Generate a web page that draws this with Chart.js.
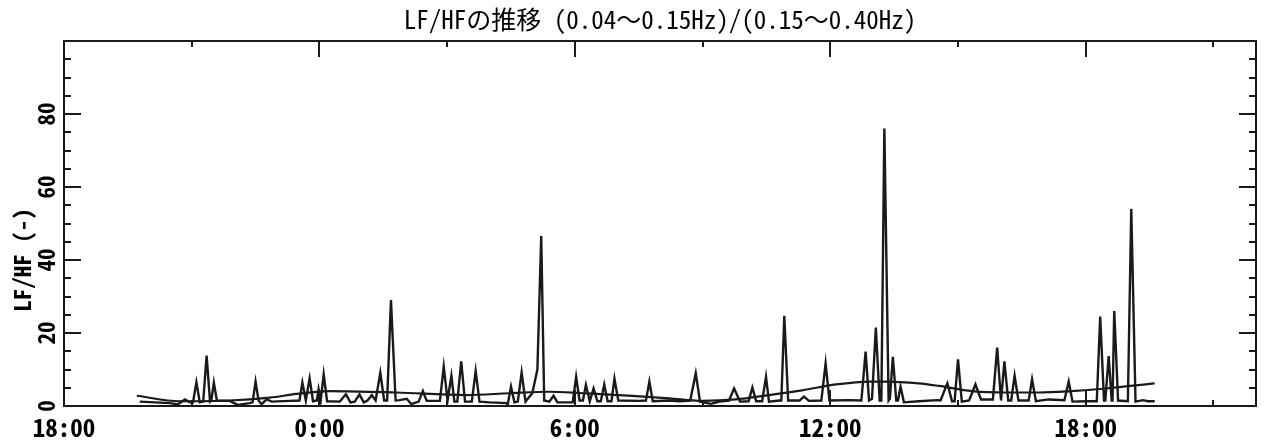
<!DOCTYPE html>
<html><head><meta charset="utf-8">
<script src="https://cdn.jsdelivr.net/npm/chart.js@4.4.1/dist/chart.umd.min.js"></script>
<style>html,body{margin:0;padding:0;background:#fff;}#wrap{width:1265px;height:441px;}</style>
</head><body><div id="wrap"><canvas id="c" width="1265" height="441"></canvas></div>
<script>
// hours elapsed since 18:00 on the first day
const lfhfHours = [
 1.78,2.13,2.49,2.67,2.84,2.96,3.03,3.11,3.19,3.27,
 3.35,3.43,3.46,3.52,3.59,3.89,4.08,4.36,4.43,4.50,
 4.57,4.64,4.76,4.88,5.30,5.53,5.60,5.68,5.77,5.85,
 5.94,5.98,6.03,6.10,6.18,6.48,6.62,6.73,6.83,6.94,
 7.04,7.13,7.23,7.32,7.43,7.52,7.59,7.68,7.79,7.88,
 8.05,8.16,8.33,8.43,8.52,8.83,8.92,9.01,9.10,9.17,
 9.24,9.33,9.42,9.58,9.67,9.76,10.00,10.40,10.42,10.44,
 10.50,10.58,10.66,10.75,10.84,11.00,11.12,11.21,11.28,11.40,
 11.50,11.59,11.95,12.03,12.11,12.19,12.26,12.35,12.44,12.53,
 12.61,12.69,12.77,12.86,12.93,13.02,13.52,13.67,13.75,13.83,
 14.22,14.46,14.71,14.84,14.94,15.20,15.39,15.62,15.74,15.88,
 16.08,16.17,16.26,16.40,16.49,16.56,16.80,16.85,16.92,17.01,
 17.28,17.38,17.50,17.79,17.89,17.98,18.44,18.73,18.83,18.91,
 18.98,19.07,19.16,19.20,19.27,19.37,19.40,19.47,19.55,19.59,
 19.65,19.73,20.08,20.51,20.59,20.75,20.86,20.92,21.00,21.09,
 21.26,21.41,21.54,21.82,21.92,22.01,22.09,22.18,22.25,22.33,
 22.42,22.66,22.74,22.83,23.13,23.50,23.60,23.69,24.00,24.26,
 24.34,24.43,24.46,24.54,24.61,24.63,24.67,24.76,24.99,25.07,
 25.17,25.35,25.46,25.62
];
const lfhfValues = [
 1.2,1.0,0.8,0.4,1.8,1.0,1.0,6.5,1.0,1.2,
 13.8,1.2,1.5,6.4,1.5,1.4,0.3,0.8,1.0,6.7,
 1.5,0.5,1.8,1.2,1.4,1.5,6.4,1.5,7.6,1.3,
 1.5,4.6,1.5,8.7,1.3,1.2,3.2,1.0,1.2,3.2,
 1.0,1.5,3.0,1.5,9.1,1.5,1.5,29,1.5,1.6,
 2.0,0.5,1.2,4.1,1.4,1.4,10.8,1.5,8.3,1.2,
 1.2,12.2,1.2,1.2,9.6,1.2,1.0,0.8,0.3,1.5,
 5.3,1.0,1.2,9.2,1.2,3.5,10,46.6,1.5,1.2,
 2.8,1.0,1.0,8.0,1.5,1.5,5.8,1.3,4.8,1.3,
 1.3,5.9,1.3,1.3,7.5,1.5,1.4,1.5,6.7,1.3,
 1.5,1.3,1.5,9.0,1.2,0.6,1.2,1.5,4.8,1.2,
 1.3,5.1,1.3,1.3,8.0,1.2,1.5,1.5,24.7,1.5,
 1.5,2.6,1.4,1.5,11.7,1.5,1.6,1.5,14.9,1.5,
 2.0,21.5,1.5,1.5,76,1.5,2.0,13.5,1.5,1.5,
 5.3,1.0,1.3,1.6,1.5,6.2,1.3,1.3,12.8,1.2,
 1.5,5.9,1.8,1.8,16.0,1.5,12.2,1.5,1.5,8.3,
 1.5,1.5,7.3,1.3,1.8,1.6,6.7,1.2,1.3,1.3,
 24.5,1.5,1.5,13.7,1.5,1.5,26,1.5,1.3,54,
 1.2,1.6,1.3,1.3
];
const trendHours = [1.71,2.72,3.89,4.83,5.46,6.24,7.81,9.45,10.46,11.40,12.18,13.35,14.22,14.99,
 15.78,16.56,17.34,18.13,18.92,19.30,20.08,20.55,21.33,22.12,22.90,23.67,24.46,25.62];
const trendValues = [2.8,1.3,1.5,2.3,3.3,4.1,3.7,3.0,3.5,3.9,3.5,2.8,2.1,1.4,
 1.8,3.0,4.3,5.9,6.7,6.7,6.2,5.5,4.1,3.7,3.7,4.1,4.8,6.2];
const xTickLabels = ['18:00','0:00','6:00','12:00','18:00'];
const yTickLabels = [0,20,40,60,80];
const titleText = 'LF/HFの推移 (0.04～0.15Hz)/(0.15～0.40Hz)';
const yTitle = 'LF/HF (-)';

const FONT = "'Noto Sans Mono CJK JP','Noto Sans CJK JP',sans-serif";
const INK = '#1a1a1a';

const framePlugin = {
  id: 'frame',
  afterDraw(chart) {
    const ctx = chart.ctx, a = chart.chartArea, xs = chart.scales.x, ys = chart.scales.y;
    ctx.save();
    ctx.strokeStyle = INK; ctx.lineWidth = 2;
    ctx.strokeRect(a.left, a.top, a.right - a.left, a.bottom - a.top);
    ctx.beginPath();
    for (let v = 5; v < 100; v += 5) {
      const py = Math.round(ys.getPixelForValue(v));
      const len = v % 20 === 0 ? 17 : 7;
      ctx.moveTo(a.left, py); ctx.lineTo(a.left + len, py);
      ctx.moveTo(a.right, py); ctx.lineTo(a.right - len, py);
    }
    for (let h = 3; h < 28; h += 3) {
      const px = Math.round(xs.getPixelForValue(h));
      const len = h % 6 === 0 ? 16 : 6;
      ctx.moveTo(px, a.top); ctx.lineTo(px, a.top + len);
      ctx.moveTo(px, a.bottom); ctx.lineTo(px, a.bottom - len);
    }
    ctx.stroke();
    ctx.fillStyle = '#000';
    ctx.textAlign = 'center'; ctx.textBaseline = 'middle';
    ctx.font = "bold 23px " + FONT;
    yTickLabels.forEach(v => {
      const py = ys.getPixelForValue(v);
      ctx.save(); ctx.translate(46, py); ctx.rotate(-Math.PI / 2);
      ctx.fillText(String(v), 0, 0); ctx.restore();
    });
    ctx.save(); ctx.translate(22, 260); ctx.rotate(-Math.PI / 2);
    ctx.fillText(yTitle, 0, 0); ctx.restore();
    ctx.restore();
  }
};

new Chart(document.getElementById('c'), {
  type: 'line',
  data: { datasets: [
    { label: 'LF/HF', data: lfhfHours.map((h, i) => ({ x: h, y: lfhfValues[i] })),
      borderColor: INK, borderWidth: 2.4, pointRadius: 0, tension: 0, fill: false },
    { label: 'trend', data: trendHours.map((h, i) => ({ x: h, y: trendValues[i] })),
      borderColor: INK, borderWidth: 2.2, pointRadius: 0, cubicInterpolationMode: 'monotone', fill: false }
  ]},
  options: {
    responsive: false, animation: false, devicePixelRatio: 1,
    layout: { padding: { left: 0, right: 9, top: 0, bottom: 0 } },
    plugins: {
      legend: { display: false }, tooltip: { enabled: false },
      title: { display: true, text: titleText, fullSize: false, color: '#000',
        font: { family: FONT, size: 25, weight: 'normal', lineHeight: 1.1 }, padding: { top: 6, bottom: 7.5 } }
    },
    scales: {
      x: { type: 'linear', min: 0, max: 28,
        grid: { display: false, drawTicks: false }, border: { display: false },
        ticks: { stepSize: 6, autoSkip: false, maxRotation: 0, minRotation: 0, color: '#000',
          font: { family: FONT, size: 25, weight: 'bold' }, padding: 6,
          callback: (v) => (v % 6 === 0 && xTickLabels[v / 6] !== undefined) ? xTickLabels[v / 6] : '' },
        afterFit: (s) => { s.height = 35; } },
      y: { min: 0, max: 100,
        grid: { display: false, drawTicks: false }, border: { display: false },
        ticks: { display: false, stepSize: 5 },
        afterFit: (s) => { s.width = 64; } }
    }
  },
  plugins: [framePlugin]
});
</script></body></html>
